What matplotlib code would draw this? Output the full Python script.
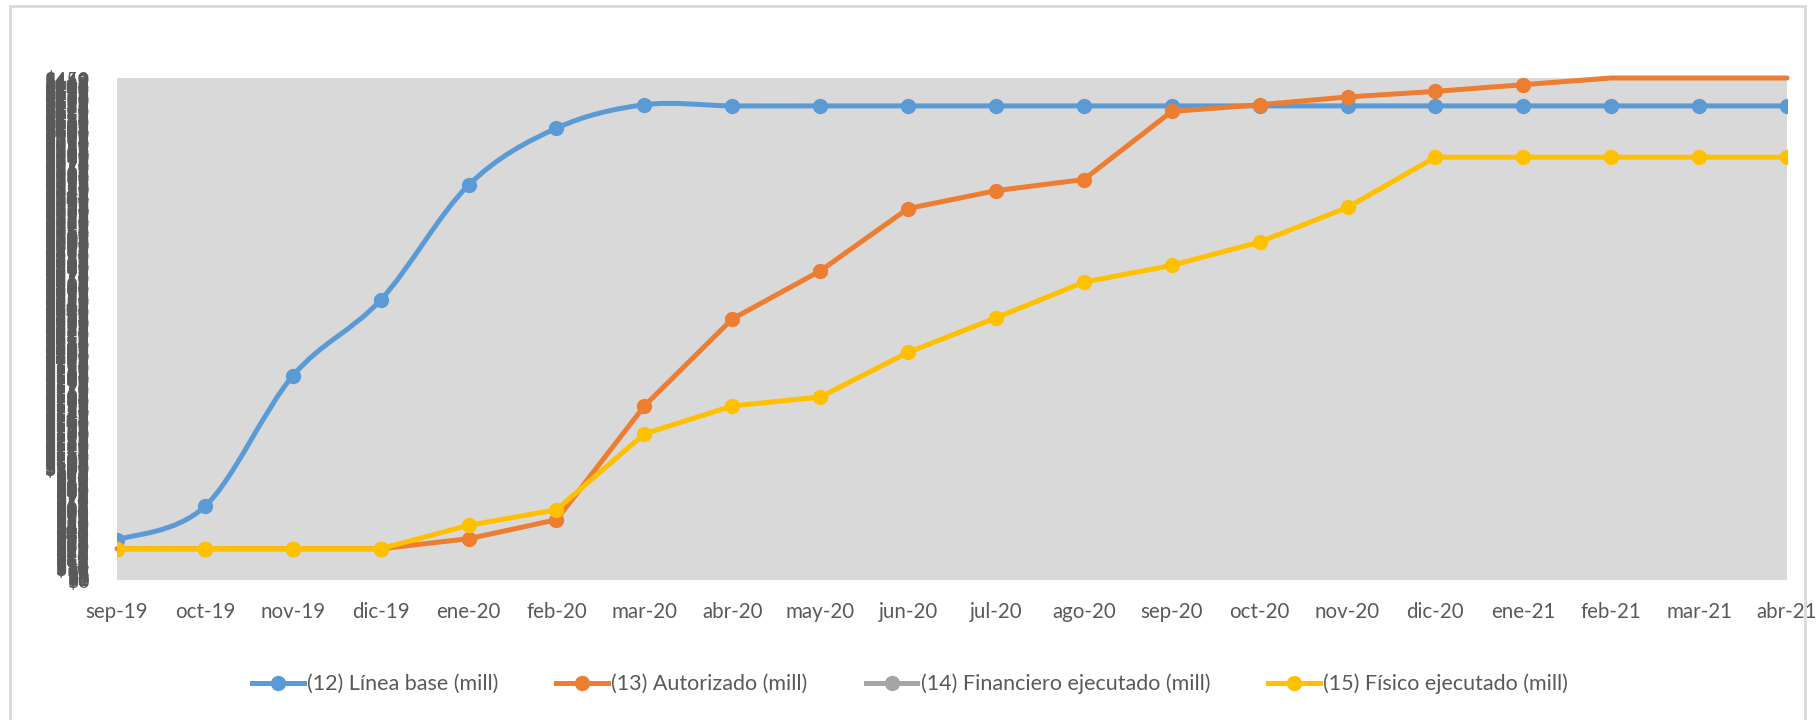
import numpy as np
import matplotlib
matplotlib.use('Agg')
import matplotlib.pyplot as plt
from matplotlib.path import Path
from matplotlib.patches import PathPatch, Rectangle
from matplotlib.lines import Line2D

plt.rcParams['font.family'] = ['Lato', 'DejaVu Sans']

# months shown on the x axis
months = ["sep-19", "oct-19", "nov-19", "dic-19", "ene-20", "feb-20", "mar-20",
          "abr-20", "may-20", "jun-20", "jul-20", "ago-20", "sep-20", "oct-20",
          "nov-20", "dic-20", "ene-21", "feb-21", "mar-21", "abr-21"]

# values in millions
linea_base = [36, 66, 183, 251, 354, 405, 426, 425, 425, 425, 425, 425, 425, 425,
              425, 425, 425, 425, 425, 425]
autorizado = [28, 28, 28, 28, 37, 54, 156, 234, 277, 333, 349, 359, 420, 426,
              433, 438, 444, 455, 458, 460]
financiero = [np.nan] * len(months)  # no visible values in the chart
fisico = [28, 28, 28, 28, 49, 63, 131, 156, 164, 204, 235, 267, 282, 303,
          334, 379, 379, 379, 379, 379]

series_names = ["(12) Línea base (mill)", "(13) Autorizado (mill)",
                "(14) Financiero ejecutado (mill)", "(15) Físico ejecutado (mill)"]
colors = ["#5B9BD5", "#ED7D31", "#A5A5A5", "#FFC000"]

y_max = 450
text_color = "#595959"


def smooth_path(x, y):
    # Excel-style smoothed line: cubic Bezier through the points
    pts = np.column_stack([x, y]).astype(float)
    n = len(pts)
    verts = [pts[0]]
    codes = [Path.MOVETO]
    for i in range(n - 1):
        p0 = pts[max(i - 1, 0)]
        p1 = pts[i]
        p2 = pts[i + 1]
        p3 = pts[min(i + 2, n - 1)]
        c1 = p1 + (p2 - p0) / 6
        c2 = p2 - (p3 - p1) / 6
        verts += [c1, c2, p2]
        codes += [Path.CURVE4] * 3
    return Path(verts, codes)


fig = plt.figure(figsize=(18.2, 7.2), dpi=100)
ax = fig.add_axes([117 / 1820, 1 - 580 / 720, (1787 - 117) / 1820, (580 - 78) / 720])
ax.set_facecolor("#D9D9D9")

x = np.arange(len(months))
lw = 3.6
ms = 10

# (12) smoothed base line
ax.add_patch(PathPatch(smooth_path(x, linea_base), facecolor="none",
                       edgecolor=colors[0], lw=lw, capstyle="round", zorder=2))
ax.plot(x, linea_base, linestyle="none", marker="o", ms=ms, color=colors[0], zorder=3)

# (13) authorised: values above the axis max sit on the top edge, without markers
aut = np.array(autorizado, dtype=float)
ax.plot(x, np.minimum(aut, y_max), color=colors[1], lw=lw, zorder=4, clip_on=False,
        solid_capstyle="round")
inside = aut <= y_max
ax.plot(x[inside], aut[inside], linestyle="none", marker="o", ms=ms,
        color=colors[1], zorder=5)

# (14) financial executed
ax.plot(x, financiero, color=colors[2], lw=lw, marker="o", ms=ms, zorder=6)

# (15) physical executed
ax.plot(x, fisico, color=colors[3], lw=lw, marker="o", ms=ms, zorder=7,
        solid_capstyle="round")

ax.set_xlim(0, len(months) - 1)
ax.set_ylim(0, y_max)
ax.set_xticks(x)
ax.set_xticklabels(months)
# the original axis had a tick every unit, so its labels pile up
ax.set_yticks(np.arange(0, y_max + 1, 1))
ax.set_yticklabels([f"${v}" for v in range(0, y_max + 1)])
ax.tick_params(axis="both", length=0, labelsize=14, labelcolor=text_color)
ax.tick_params(axis="x", pad=16, labelsize=14.8)
ax.tick_params(axis="y", pad=20)
for s in ax.spines.values():
    s.set_visible(False)

handles = [Line2D([], [], color=c, lw=lw, marker="o", ms=ms) for c in colors]
fig.legend(handles, series_names, loc="center", bbox_to_anchor=(0.5, 1 - 684 / 720),
           ncol=4, frameon=False, fontsize=15.5, labelcolor=text_color,
           handlelength=2.4, handletextpad=0.15, columnspacing=2.7)

# light chart border
fig.patches.append(Rectangle((10 / 1820, -0.05), (1805 - 10) / 1820, 1.05 - 6 / 720,
                             transform=fig.transFigure, facecolor="none",
                             edgecolor="#D9D9D9", lw=2))

fig.savefig("out.png", dpi=100, facecolor="white")
